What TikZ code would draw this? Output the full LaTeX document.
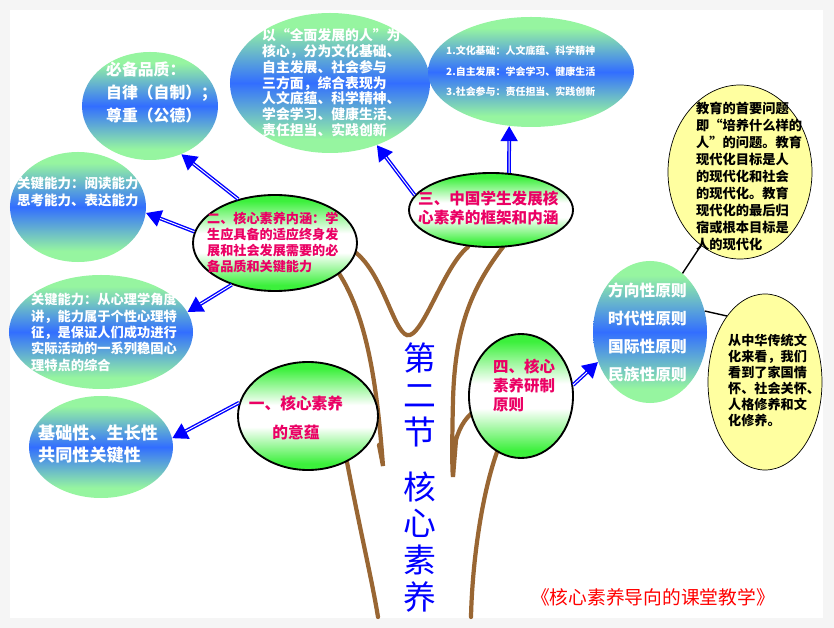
\documentclass[tikz,border=0pt]{standalone}
\usepackage{fontspec}
\setmainfont{Noto Sans CJK SC}
\usetikzlibrary{shapes.geometric,arrows.meta}
\definecolor{lgreen}{RGB}{150,245,160}
\definecolor{mblue}{RGB}{50,110,255}
\definecolor{bgreen}{RGB}{60,240,60}
\definecolor{rose}{RGB}{235,0,100}
\definecolor{trunk}{RGB}{153,102,51}
\definecolor{lyellow}{RGB}{255,255,160}
\pgfdeclareverticalshading{bluesh}{100bp}{color(0bp)=(lgreen); color(30bp)=(lgreen); color(50bp)=(mblue); color(70bp)=(lgreen); color(100bp)=(lgreen)}
\pgfdeclareverticalshading{greensh}{100bp}{color(0bp)=(bgreen); color(28bp)=(bgreen); color(45bp)=(white); color(55bp)=(white); color(72bp)=(bgreen); color(100bp)=(bgreen)}
\tikzset{
  bell/.style={ellipse, shading=bluesh, inner sep=0pt},
  gell/.style={ellipse, shading=greensh, draw=black, line width=1.6pt, inner sep=0pt},
  yell/.style={ellipse, fill=lyellow, draw=black, line width=0.6pt, inner sep=0pt},
  wtxt/.style={text=white, align=left, inner sep=0pt},
  rtxt/.style={text=rose, align=left, inner sep=0pt},
  ktxt/.style={text=black, align=left, inner sep=0pt, font=\bfseries\fontsize{11.3}{14.5}\selectfont},
  arr/.style={blue, line width=3.2pt, -{Triangle[length=13pt,width=14pt]}},
  arrin/.style={white, line width=0.8pt, shorten >=13pt},
  br/.style={trunk, line width=3.6pt, line cap=round}
}
\begin{document}
\begin{tikzpicture}[x=0.03cm,y=-0.03cm]
\useasboundingbox (0,0) rectangle (834,628);
\fill[gray!8] (0,0) rectangle (834,628);
\fill[white] (10,10) rectangle (823,618);

% Trunk
\draw[br] (355,252) .. controls (385,275) and (395,340) .. (410,335) .. controls (425,330) and (445,265) .. (468,247);
\draw[br] (338,272) .. controls (370,320) and (378,400) .. (383,466) -- (379,445);
\draw[br] (347,462) .. controls (360,530) and (372,580) .. (378,617);
\draw[br] (503,247) .. controls (470,290) and (455,330) .. (453,400) .. controls (452,440) and (452,470) .. (453,477) -- (456,440) .. controls (460,425) and (468,415) .. (476,410);
\draw[br] (497,452) .. controls (480,500) and (472,570) .. (471,617);

% Blue ellipses
\node[bell, minimum width=4.08cm, minimum height=3.24cm] (bq) at (150,106) {};
\node[bell, minimum width=6cm, minimum height=4.2cm] (qm) at (330,83) {};
\node[bell, minimum width=6.18cm, minimum height=3.3cm] (ky) at (531,72) {};
\node[bell, minimum width=4.08cm, minimum height=3.3cm] (gj1) at (78,207) {};
\node[bell, minimum width=5.52cm, minimum height=3.42cm] (gj2) at (101,332) {};
\node[bell, minimum width=4.32cm, minimum height=3.06cm] (jc) at (101,447) {};
\node[bell, minimum width=3.42cm, minimum height=4.26cm] (yz) at (650,332) {};

% Green ellipses
\node[gell, minimum width=4.92cm, minimum height=2.88cm] (n2) at (275,243) {};
\node[gell, minimum width=4.92cm, minimum height=2.22cm] (n3) at (491,210) {};
\node[gell, minimum width=4.2cm, minimum height=3.24cm] (n1) at (308,416) {};
\node[gell, minimum width=3.12cm, minimum height=3.72cm] (n4) at (521,396) {};

% Yellow ellipses
\node[yell, minimum width=4.32cm, minimum height=5.22cm] (y1) at (740,172) {};
\node[yell, minimum width=3.42cm, minimum height=5.28cm] (y2) at (765,382) {};

% Arrows
\foreach \a/\b in {n2.130/bq.-57, n2.172/gj1.-5, n2.224/gj2.13, n3.169/qm.-53, n3.64/ky.-112, n1.169/jc.7, n4.12/yz.210}{
  \draw[arr] (\a) -- (\b);
  \draw[arrin] (\a) -- (\b);
}
\draw[black, line width=1.2pt] (yz.61) -- (y1.242);
\draw[black, line width=1.2pt] (yz.21) -- (y2.120);

% Texts
\node[wtxt, anchor=north west, font=\bfseries\fontsize{13.5}{19.5}\selectfont] (tbq) at (106,62) {必备品质：\\自律（自制）；\\尊重（公德）};
\node[wtxt, anchor=north west, font=\bfseries\fontsize{11.8}{13.6}\selectfont] (tqm) at (262,28) {以“全面发展的人”为\\核心，分为文化基础、\\自主发展、社会参与\\三方面，综合表现为\\人文底蕴、科学精神、\\学会学习、健康生活、\\责任担当、实践创新};
\node[wtxt, anchor=north west, font=\bfseries\fontsize{8.5}{17.4}\selectfont] (tky) at (446,46) {1.文化基础：人文底蕴、科学精神\\2.自主发展：学会学习、健康生活\\3.社会参与：责任担当、实践创新};
\node[wtxt, anchor=north west, font=\bfseries\fontsize{11.5}{14.5}\selectfont] (tgj1) at (17,177) {关键能力：阅读能力\\思考能力、表达能力};
\node[wtxt, anchor=north west, font=\bfseries\fontsize{11.3}{14}\selectfont] (tgj2) at (31,293) {关键能力：从心理学角度\\讲，能力属于个性心理特\\征，是保证人们成功进行\\实际活动的一系列稳固心\\理特点的综合};
\node[wtxt, anchor=north west, font=\bfseries\fontsize{14.6}{18.7}\selectfont] (tjc) at (38,425) {基础性、生长性\\共同性关键性};
\node[wtxt, anchor=north west, font=\bfseries\fontsize{13.4}{23.8}\selectfont] (tyz) at (608,283) {方向性原则\\时代性原则\\国际性原则\\民族性原则};
\node[rtxt, anchor=north west, font=\bfseries\fontsize{11.2}{13.6}\selectfont] (tn2) at (207,212) {二、核心素养内涵：学\\生应具备的适应终身发\\展和社会发展需要的必\\备品质和关键能力};
\node[rtxt, anchor=north west, font=\bfseries\fontsize{13.3}{16.2}\selectfont] (tn3) at (418,191) {三、中国学生发展核\\心素养的框架和内涵};
\node[rtxt, align=center, font=\bfseries\fontsize{13.4}{24.6}\selectfont] (tn1) at (296,418) {一、核心素养\\的意蕴};
\node[rtxt, anchor=north west, font=\bfseries\fontsize{13.2}{16.2}\selectfont] (tn4) at (493,359) {四、核心\\素养研制\\原则};
\node[ktxt, anchor=north west] (ty1) at (696,102) {教育的首要问题\\即“培养什么样的\\人”的问题。教育\\现代化目标是人\\的现代化和社会\\的现代化。教育\\现代化的最后归\\宿或根本目标是\\人的现代化};
\node[ktxt, anchor=north west, font=\bfseries\fontsize{11.2}{13.6}\selectfont] (ty2) at (728,334) {从中华传统文\\化来看，我们\\看到了家国情\\怀、社会关怀、\\人格修养和文\\化修养。};
\node[text=blue, align=center, inner sep=0pt, font=\fontsize{28}{31.5}\selectfont] (tt1) at (420,395) {第\\二\\节};
\node[text=blue, align=center, inner sep=0pt, font=\fontsize{28}{31.5}\selectfont] (tt2) at (420,542) {核\\心\\素\\养};
\node[text=red, inner sep=0pt, font=\fontsize{16}{18}\selectfont] (src) at (653,597) {《核心素养导向的课堂教学》};
\end{tikzpicture}
\end{document}
